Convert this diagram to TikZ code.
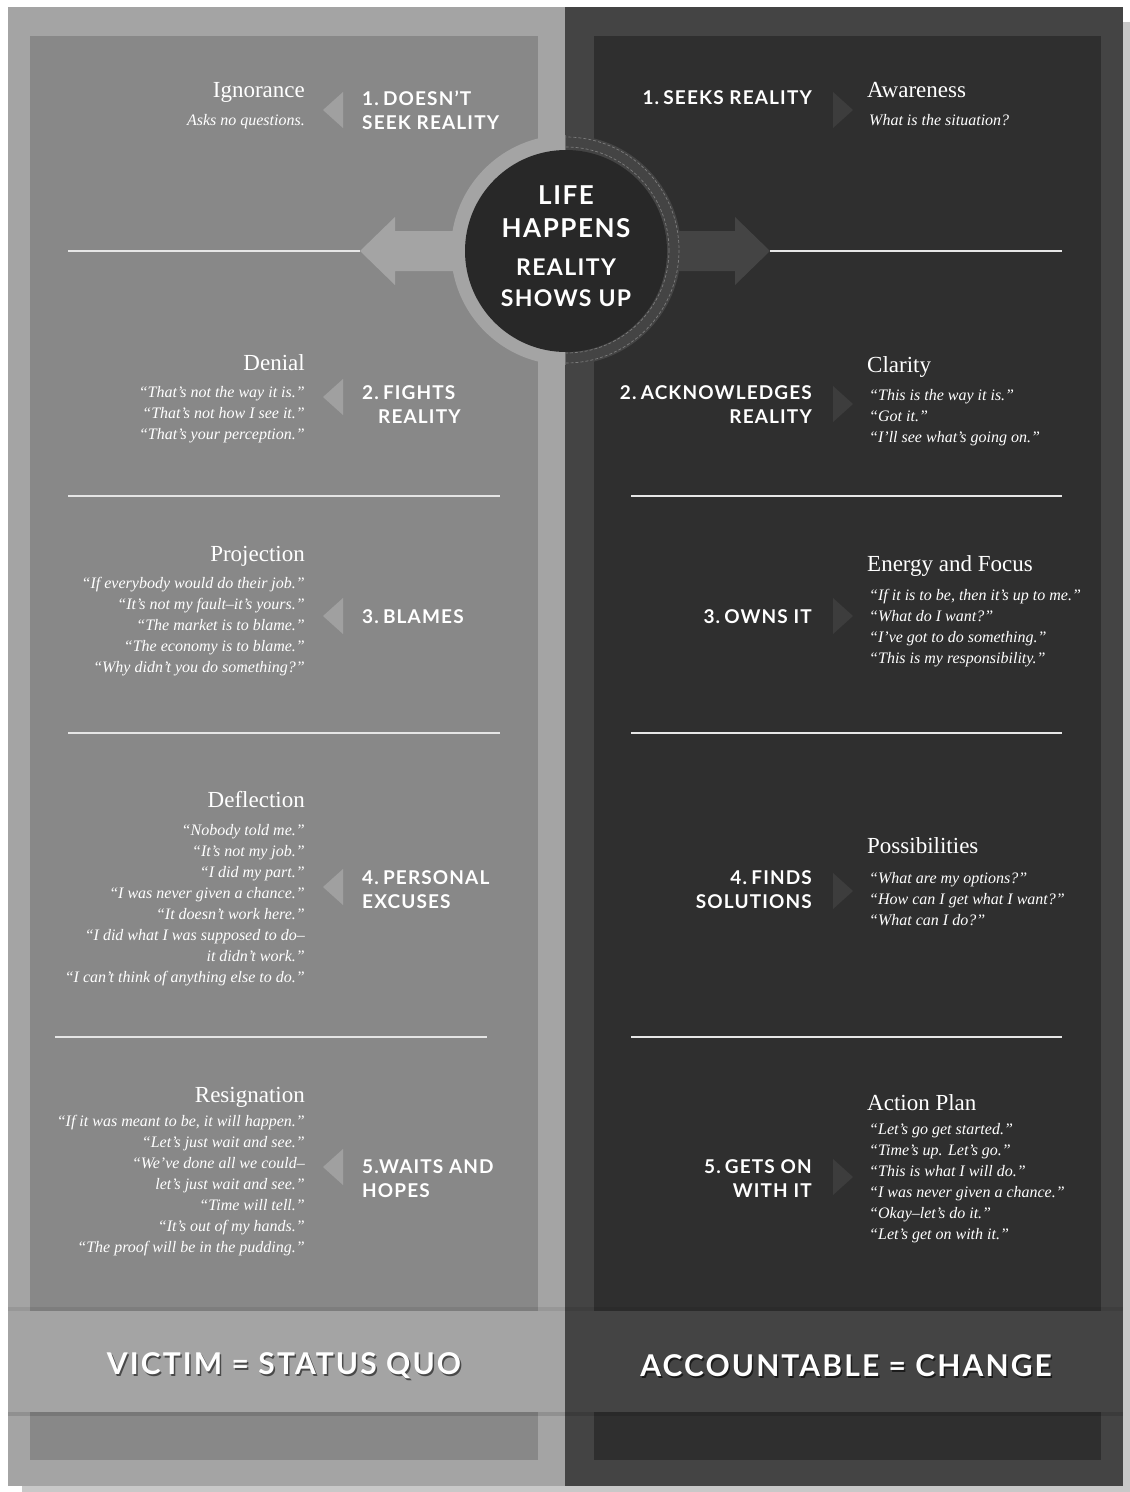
\documentclass[tikz,border=0pt]{standalone}
\usepackage{fontspec}
\setmainfont{Liberation Serif}
\newfontfamily\capsfont{Lato}[LetterSpace=6]
\newfontfamily\mottofont{Lato}[LetterSpace=7]

\definecolor{victimouter}{HTML}{A4A4A4}
\definecolor{victiminner}{HTML}{888888}
\definecolor{victimtip}{HTML}{A0A0A0}
\definecolor{acctouter}{HTML}{444444}
\definecolor{acctinner}{HTML}{2F2F2F}
\definecolor{accttip}{HTML}{3D3D3D}
\definecolor{hubfill}{HTML}{282828}
\definecolor{pageshadow}{HTML}{C8C8C8}
\definecolor{rulecolor}{HTML}{E6E6E6}
\definecolor{hubdash}{HTML}{7C7C7C}

\newcommand\stagegap{\hspace{0.22em}}

\begin{document}
\begin{tikzpicture}[x=1pt,y=-1pt,
  stage/.style={font=\capsfont\bfseries\fontsize{19}{24}\selectfont, text=white, inner sep=0pt},
  stageL/.style={stage, anchor=west, align=left},
  stageR/.style={stage, anchor=east, align=right},
  heading/.style={font=\fontsize{23}{26}\selectfont, text=white, inner sep=0pt},
  headL/.style={heading, anchor=base east},
  headR/.style={heading, anchor=base west},
  quotes/.style={font=\itshape\fontsize{16}{21}\selectfont, text=white, inner sep=0pt},
  quoteL/.style={quotes, anchor=north east, align=right},
  quoteR/.style={quotes, anchor=north west, align=left},
  sep/.style={draw=rulecolor, line width=1.8pt},
  hubtext/.style={text=white, align=center, inner sep=0pt},
  motto/.style={font=\mottofont\bfseries\fontsize{30}{32}\selectfont, inner sep=0pt},
  pics/lefttip/.style={code={\fill[victimtip] (10,-18) -- (-10,0) -- (10,18) -- cycle;}},
  pics/righttip/.style={code={\fill[accttip] (-10,-18) -- (10,0) -- (-10,18) -- cycle;}},
]
\useasboundingbox (0,0) rectangle (1130,1492);
\fill[white] (0,0) rectangle (1130,1492);

% page shadow and the two outer panels
\fill[pageshadow] (22,22) rectangle (1130,1492);
\fill[victimouter] (8,7) rectangle (565,1486);
\fill[acctouter] (565,7) rectangle (1123,1486);

% inner panels
\fill[victiminner] (30,36) rectangle (538,1460);
\fill[acctinner] (594,36) rectangle (1101,1460);

% bottom banner
\fill[black, opacity=0.12] (8,1412) rectangle (1123,1416);
\fill[black, opacity=0.08] (8,1307) rectangle (1123,1311);
\fill[victimouter] (8,1311) rectangle (565,1412);
\fill[acctouter] (565,1311) rectangle (1123,1412);

% block arrows leaving the hub
\coordinate (ltip) at (360,251);
\coordinate (rtip) at (770,251);
\fill[victimouter] (480,231) -- (395,231) -- (395,217) -- (ltip) -- (395,285) -- (395,271) -- (480,271) -- cycle;
\fill[acctouter] (650,231) -- (735,231) -- (735,217) -- (rtip) -- (735,285) -- (735,271) -- (650,271) -- cycle;

% hub ring, split in two halves
\begin{scope}
  \clip (0,0) rectangle (565.5,1492);
  \fill[victimouter] (566,250) circle[radius=115];
\end{scope}
\begin{scope}
  \clip (565.5,0) rectangle (1130,1492);
  \fill[acctouter] (566,250) circle[radius=115];
  \draw[hubdash, line width=0.7pt, dash pattern=on 3pt off 2pt] (566,250) circle[radius=113];
  \draw[hubdash, line width=0.7pt, dash pattern=on 3pt off 2pt] (566,250) circle[radius=103];
\end{scope}
\node[circle, fill=hubfill, minimum size=202pt, inner sep=0pt] (hub) at (566,251) {};
\node[hubtext, font=\capsfont\bfseries\fontsize{26}{33}\selectfont] (life) at (566,211.5) {LIFE\\HAPPENS};
\node[hubtext, font=\capsfont\bfseries\fontsize{23}{31}\selectfont] (reality) at (566,282.5) {REALITY\\SHOWS UP};

% separator rules
\draw[sep] (68,251) -- (ltip);
\draw[sep] (rtip) -- (1062,251);
\draw[sep] (68,496) -- (500,496);
\draw[sep] (631,496) -- (1062,496);
\draw[sep] (68,733) -- (500,733);
\draw[sep] (631,733) -- (1062,733);
\draw[sep] (55,1037) -- (487,1037);
\draw[sep] (631,1037) -- (1062,1037);

% ---------- victim column ----------
\pic at (333,110) {lefttip};
\node[stageL] (v1) at (362,110) {1.\stagegap DOESN’T\\SEEK REALITY};
\node[headL] (v1h) at (305,97) {Ignorance};
\node[quoteL] (v1q) at (305,114) {Asks no questions.};

\pic at (333,397) {lefttip};
\node[stageL] (v2) at (362,405) {2.\stagegap FIGHTS\\\hspace*{16pt}REALITY};
\node[headL] (v2h) at (305,370) {Denial};
\node[quoteL] (v2q) at (305,386) {“That’s not the way it is.”\\“That’s not how I see it.”\\“That’s your perception.”};

\pic at (333,616) {lefttip};
\node[stageL] (v3) at (362,617) {3.\stagegap BLAMES};
\node[headL] (v3h) at (305,561) {Projection};
\node[quoteL] (v3q) at (305,577) {“If everybody would do their job.”\\“It’s not my fault–it’s yours.”\\“The market is to blame.”\\“The economy is to blame.”\\“Why didn’t you do something?”};

\pic at (333,887) {lefttip};
\node[stageL] (v4) at (362,890) {4.\stagegap PERSONAL\\EXCUSES};
\node[headL] (v4h) at (305,807) {Deflection};
\node[quoteL] (v4q) at (305,824) {“Nobody told me.”\\“It’s not my job.”\\“I did my part.”\\“I was never given a chance.”\\“It doesn’t work here.”\\“I did what I was supposed to do–\\it didn’t work.”\\“I can’t think of anything else to do.”};

\pic at (333,1167) {lefttip};
\node[stageL] (v5) at (362,1179) {5.WAITS AND\\HOPES};
\node[headL] (v5h) at (305,1102) {Resignation};
\node[quoteL] (v5q) at (305,1115) {“If it was meant to be, it will happen.”\\“Let’s just wait and see.”\\“We’ve done all we could–\\let’s just wait and see.”\\“Time will tell.”\\“It’s out of my hands.”\\“The proof will be in the pudding.”};

% ---------- accountable column ----------
\pic at (843,110) {righttip};
\node[stageR] (a1) at (812,98) {1.\stagegap SEEKS REALITY};
\node[headR] (a1h) at (867,97) {Awareness};
\node[quoteR] (a1q) at (869,114) {What is the situation?};

\pic at (843,404) {righttip};
\node[stageR] (a2) at (812,405) {2.\stagegap ACKNOWLEDGES\\REALITY};
\node[headR] (a2h) at (867,372) {Clarity};
\node[quoteR] (a2q) at (869,389) {“This is the way it is.”\\“Got it.”\\“I’ll see what’s going on.”};

\pic at (843,616) {righttip};
\node[stageR] (a3) at (812,617) {3.\stagegap OWNS IT};
\node[headR] (a3h) at (867,571) {Energy and Focus};
\node[quoteR] (a3q) at (869,589) {“If it is to be, then it’s up to me.”\\“What do I want?”\\“I’ve got to do something.”\\“This is my responsibility.”};

\pic at (843,891) {righttip};
\node[stageR] (a4) at (812,890) {4.\stagegap FINDS\\SOLUTIONS};
\node[headR] (a4h) at (867,853) {Possibilities};
\node[quoteR] (a4q) at (869,872) {“What are my options?”\\“How can I get what I want?”\\“What can I do?”};

\pic at (843,1177) {righttip};
\node[stageR] (a5) at (812,1179) {5.\stagegap GETS ON\\WITH IT};
\node[headR] (a5h) at (867,1110) {Action Plan};
\node[quoteR] (a5q) at (869,1123) {“Let’s go get started.”\\“Time’s up. Let’s go.”\\“This is what I will do.”\\“I was never given a chance.”\\“Okay–let’s do it.”\\“Let’s get on with it.”};

% ---------- banner mottos ----------
\node[motto, text=black, text opacity=0.55] (victimshade) at (285.5,1368) {VICTIM = STATUS QUO};
\node[motto, text=white] (victim) at (284,1366) {VICTIM = STATUS QUO};
\node[motto, text=black, text opacity=0.6] (acctshade) at (847.5,1368) {ACCOUNTABLE = CHANGE};
\node[motto, text=white] (acct) at (846,1366) {ACCOUNTABLE = CHANGE};
\end{tikzpicture}
\end{document}
